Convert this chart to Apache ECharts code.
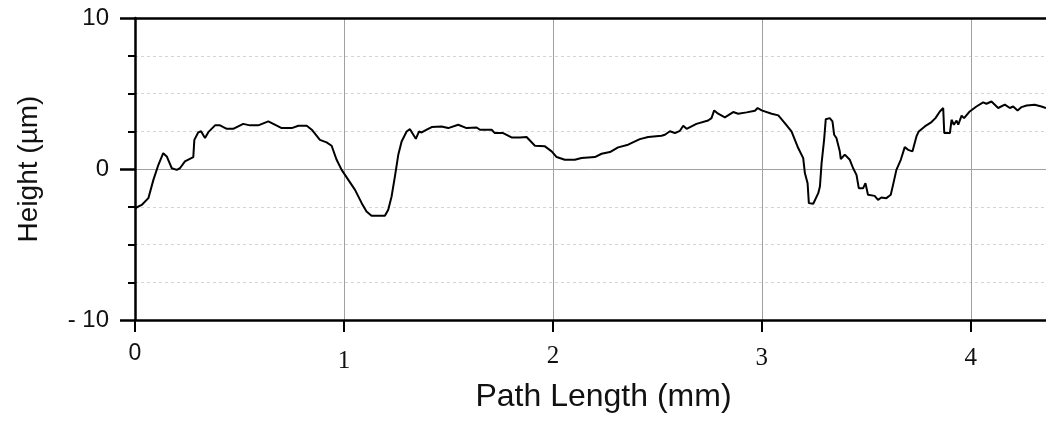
<!DOCTYPE html>
<html>
<head>
<meta charset="utf-8">
<title>Surface profile</title>
<script src="https://cdn.jsdelivr.net/npm/echarts@6/dist/echarts.min.js"></script>
<style>
  html, body { margin: 0; padding: 0; background: #ffffff; }
  #chart { width: 1046px; height: 421px; }
</style>
</head>
<body>
<div id="chart"></div>
<script>
// Profile trace: position along the scan path (mm) and surface height (µm)
const pathLengthMm = [
  0.000, 0.008, 0.032, 0.064, 0.088, 0.112, 0.135, 0.152, 0.176, 0.200,
  0.215, 0.239, 0.279, 0.284, 0.303, 0.316, 0.335, 0.351, 0.383, 0.407,
  0.439, 0.470, 0.518, 0.550, 0.590, 0.638, 0.662, 0.702, 0.750, 0.782,
  0.822, 0.846, 0.885, 0.917, 0.941, 0.965, 0.989, 1.021, 1.053, 1.085,
  1.108, 1.132, 1.196, 1.212, 1.228, 1.244, 1.260, 1.276, 1.300, 1.316,
  1.327, 1.344, 1.359, 1.372, 1.396, 1.420, 1.467, 1.499, 1.547, 1.587,
  1.635, 1.651, 1.707, 1.722, 1.762, 1.802, 1.842, 1.874, 1.914, 1.962,
  1.994, 2.018, 2.057, 2.105, 2.137, 2.201, 2.233, 2.273, 2.312, 2.360,
  2.416, 2.456, 2.520, 2.536, 2.560, 2.584, 2.608, 2.624, 2.640, 2.687,
  2.743, 2.759, 2.772, 2.791, 2.823, 2.863, 2.887, 2.927, 2.967, 2.980,
  2.999, 3.047, 3.079, 3.110, 3.142, 3.174, 3.198, 3.206, 3.219, 3.225,
  3.246, 3.270, 3.278, 3.286, 3.298, 3.306, 3.325, 3.338, 3.346, 3.357,
  3.373, 3.378, 3.397, 3.421, 3.437, 3.453, 3.464, 3.485, 3.496, 3.508,
  3.540, 3.556, 3.572, 3.596, 3.617, 3.628, 3.644, 3.665, 3.684, 3.700,
  3.721, 3.740, 3.751, 3.780, 3.812, 3.831, 3.852, 3.868, 3.873, 3.900,
  3.908, 3.919, 3.932, 3.940, 3.956, 3.968, 3.995, 4.027, 4.059, 4.075,
  4.099, 4.131, 4.163, 4.187, 4.203, 4.224, 4.243, 4.267, 4.306, 4.338,
  4.360
];
const heightUm = [
  -2.60, -2.52, -2.38, -1.93, -0.72, 0.28, 1.05, 0.83, 0.05, -0.06,
  0.05, 0.50, 0.79, 1.93, 2.43, 2.50, 2.05, 2.44, 2.89, 2.89,
  2.66, 2.66, 2.99, 2.89, 2.89, 3.15, 2.99, 2.71, 2.71, 2.86,
  2.86, 2.60, 1.93, 1.76, 1.54, 0.61, -0.06, -0.72, -1.38, -2.26,
  -2.81, -3.10, -3.10, -2.70, -1.82, -0.49, 0.94, 1.82, 2.48, 2.64,
  2.38, 2.00, 2.48, 2.42, 2.60, 2.78, 2.82, 2.71, 2.93, 2.71,
  2.75, 2.60, 2.60, 2.38, 2.38, 2.09, 2.09, 2.12, 1.54, 1.50,
  1.17, 0.79, 0.61, 0.61, 0.73, 0.79, 1.01, 1.12, 1.43, 1.61,
  1.98, 2.12, 2.20, 2.27, 2.50, 2.38, 2.53, 2.86, 2.66, 2.99,
  3.21, 3.37, 3.88, 3.66, 3.42, 3.77, 3.66, 3.75, 3.86, 4.04,
  3.88, 3.66, 3.55, 3.04, 2.49, 1.39, 0.72, -0.27, -0.94, -2.26,
  -2.30, -1.60, -1.16, 0.39, 1.93, 3.30, 3.37, 3.15, 2.27, 2.05,
  1.17, 0.66, 0.95, 0.61, 0.05, -0.39, -1.27, -1.27, -0.94, -1.71,
  -1.78, -2.04, -1.89, -1.93, -1.71, -1.05, -0.06, 0.61, 1.45, 1.27,
  1.17, 2.16, 2.49, 2.82, 3.11, 3.37, 3.81, 4.04, 2.38, 2.38,
  3.26, 2.93, 3.21, 2.93, 3.53, 3.37, 3.81, 4.14, 4.41, 4.32,
  4.47, 4.04, 4.26, 4.04, 4.14, 3.88, 4.10, 4.20, 4.26, 4.14,
  4.04
];

// Axis ranges and labelled ticks
const xRange = [0, 4.36];
const xTickLabels = ['0', '1', '2', '3', '4'];
const yRange = [-10, 10];
const yTickLabels = { '10': '10', '0': '0', '-10': '- 10' };

const profile = pathLengthMm.map((x, i) => [x, heightUm[i]]);

const sans = 'Liberation Sans';
const serif = 'Liberation Serif';

const chart = echarts.init(document.getElementById('chart'), null, { renderer: 'canvas' });

chart.setOption({
  backgroundColor: '#ffffff',
  animation: false,
  grid: { left: 135, right: 0, top: 18, bottom: 101, containLabel: false, outerBoundsMode: 'none' },
  xAxis: [
    {
      type: 'value',
      min: xRange[0],
      max: xRange[1],
      interval: 1,
      name: 'Path Length (mm)',
      nameLocation: 'middle',
      nameGap: 61,
      nameTextStyle: { fontFamily: sans, fontSize: 32, color: '#111', padding: [0, 0, 0, 26] },
      axisLine: { show: true, onZero: false, lineStyle: { color: '#000', width: 2.5 } },
      axisTick: { show: true, length: 12, lineStyle: { color: '#000', width: 2 } },
      axisLabel: {
        margin: 14,
        showMaxLabel: false,
        fontFamily: sans,
        fontSize: 23,
        color: '#111',
        formatter: function (v) {
          const i = Math.round(v);
          if (Math.abs(v - i) > 1e-6 || i >= xTickLabels.length) return '';
          return i === 0 ? '{origin|' + xTickLabels[i] + '}' : '{t' + i + '|' + xTickLabels[i] + '}';
        },
        rich: {
          origin: { fontFamily: sans, fontSize: 23, color: '#111', padding: [8, 0, 0, 0] },
          t1: { fontFamily: serif, fontSize: 25, color: '#111', padding: [15, 0, 0, 0] },
          t2: { fontFamily: serif, fontSize: 25, color: '#111', padding: [10, 0, 0, 0] },
          t3: { fontFamily: serif, fontSize: 25, color: '#111', padding: [12, 0, 0, 0] },
          t4: { fontFamily: serif, fontSize: 25, color: '#111', padding: [12, 0, 0, 0] }
        }
      },
      splitLine: { show: true, lineStyle: { color: '#a0a0a0', width: 1 } }
    },
    {
      // top frame line
      type: 'value',
      position: 'top',
      min: xRange[0],
      max: xRange[1],
      interval: 1,
      axisLine: { show: true, onZero: false, lineStyle: { color: '#000', width: 2.5 } },
      axisTick: { show: false },
      axisLabel: { show: false },
      splitLine: { show: false }
    }
  ],
  yAxis: {
    type: 'value',
    min: yRange[0],
    max: yRange[1],
    interval: 10,
    name: 'Height (µm)',
    nameLocation: 'middle',
    nameGap: 92,
    nameTextStyle: { fontFamily: sans, fontSize: 28, color: '#111' },
    axisLine: { show: true, onZero: false, lineStyle: { color: '#000', width: 2.5 } },
    axisTick: { show: true, length: 15, lineStyle: { color: '#000', width: 2.5 } },
    minorTick: { show: true, splitNumber: 4, length: 7, lineStyle: { color: '#000', width: 2 } },
    axisLabel: {
      margin: 26,
      fontFamily: sans,
      fontSize: 24,
      color: '#111',
      formatter: function (v) { return yTickLabels[String(v)] || ''; }
    },
    splitLine: { show: true, lineStyle: { color: '#a0a0a0', width: 1 } },
    minorSplitLine: { show: true, lineStyle: { color: '#d4d4d4', width: 1, type: [3, 3] } }
  },
  series: [
    {
      type: 'line',
      xAxisIndex: 0,
      data: profile,
      showSymbol: false,
      symbol: 'none',
      lineStyle: { color: '#000', width: 2 },
      z: 3
    }
  ]
});
</script>
</body>
</html>
